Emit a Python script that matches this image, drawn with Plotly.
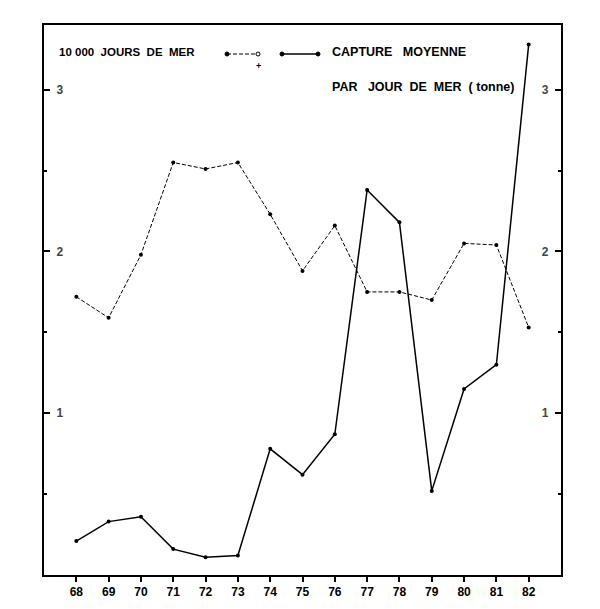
import plotly.graph_objects as go

years = [68, 69, 70, 71, 72, 73, 74, 75, 76, 77, 78, 79, 80, 81, 82]
year_labels = ["68", "69", "70", "71", "72", "73", "74", "75", "76", "77", "78", "79", "80", "81", "82"]
jours_de_mer = [1.72, 1.59, 1.98, 2.55, 2.51, 2.55, 2.23, 1.88, 2.16, 1.75, 1.75, 1.70, 2.05, 2.04, 1.53]
capture_moyenne = [0.21, 0.33, 0.36, 0.16, 0.11, 0.12, 0.78, 0.62, 0.87, 2.38, 2.18, 0.52, 1.15, 1.30, 3.28]
y_ticks = [1, 2, 3]
y_tick_labels = ["1", "2", "3"]

FONT = "Liberation Sans"
fig = go.Figure()

fig.add_trace(go.Scatter(
    x=years, y=jours_de_mer, mode="lines+markers",
    line=dict(color="black", width=1, dash="4px,2px"),
    marker=dict(color="black", size=4),
    yaxis="y", showlegend=False))
fig.add_trace(go.Scatter(
    x=years, y=capture_moyenne, mode="lines+markers",
    line=dict(color="black", width=1.5),
    marker=dict(color="black", size=4),
    yaxis="y2", showlegend=False))

yrange = [0, 3.40]
fig.update_layout(
    width=600, height=609,
    margin=dict(l=36, r=47, t=17, b=42),
    paper_bgcolor="white", plot_bgcolor="white",
    font=dict(family=FONT, color="black", size=12),
    xaxis=dict(range=[67, 83], tickvals=years, ticktext=year_labels,
               ticks="outside", ticklen=5, tickwidth=1.5, tickcolor="black",
               showline=True, linecolor="black", linewidth=2, mirror=True,
               showgrid=False, zeroline=False,
               tickfont=dict(family=FONT, size=12, weight="bold")),
    yaxis=dict(range=yrange, tickvals=y_ticks, ticktext=y_tick_labels,
               ticks="inside", ticklen=6, tickwidth=1.5, tickcolor="black",
               ticklabelposition="inside", ticklabelstandoff=6,
               showline=True, linecolor="black", linewidth=2,
               showgrid=False, zeroline=False,
               minor=dict(tickvals=[0.5, 1.5, 2.5], ticks="inside", ticklen=3, tickcolor="black"),
               tickfont=dict(family=FONT, size=12, weight="bold")),
    yaxis2=dict(range=yrange, tickvals=y_ticks, ticktext=y_tick_labels,
                overlaying="y", side="right",
                ticks="inside", ticklen=6, tickwidth=1.5, tickcolor="black",
                ticklabelposition="inside", ticklabelstandoff=6,
                showline=True, linecolor="black", linewidth=2,
                showgrid=False, zeroline=False,
                minor=dict(tickvals=[0.5, 1.5, 2.5], ticks="inside", ticklen=3, tickcolor="black"),
                tickfont=dict(family=FONT, size=12, weight="bold")),
)

def px2paper_x(px):
    return (px - 44) / (561 - 44)

def px2paper_y(py):
    return (575 - py) / (575 - 25)

tf = dict(family=FONT, size=11.5, color="black", weight="bold")
tf2 = dict(family=FONT, size=12.5, color="black", weight="bold")
fig.add_annotation(x=px2paper_x(57), y=px2paper_y(52), xref="paper", yref="paper",
                   text="10 000  JOURS  DE  MER", showarrow=False, xanchor="left", yanchor="middle", font=tf)
fig.add_annotation(x=px2paper_x(330), y=px2paper_y(52), xref="paper", yref="paper",
                   text="CAPTURE   MOYENNE", showarrow=False, xanchor="left", yanchor="middle", font=tf2)
fig.add_annotation(x=px2paper_x(330), y=px2paper_y(87), xref="paper", yref="paper",
                   text="PAR   JOUR  DE  MER  ( tonne)", showarrow=False, xanchor="left", yanchor="middle", font=tf2)
fig.add_annotation(x=px2paper_x(258), y=px2paper_y(66), xref="paper", yref="paper",
                   text="+", showarrow=False, xanchor="center", yanchor="middle",
                   font=dict(family=FONT, size=9, color="black", weight="bold"))

# legend samples
fig.add_shape(type="line", xref="paper", yref="paper",
              x0=px2paper_x(227), x1=px2paper_x(258), y0=px2paper_y(54), y1=px2paper_y(54),
              line=dict(color="black", width=1, dash="4px,2px"))
fig.add_shape(type="line", xref="paper", yref="paper",
              x0=px2paper_x(282), x1=px2paper_x(318), y0=px2paper_y(54), y1=px2paper_y(54),
              line=dict(color="black", width=1.5))
for cx, filled in [(227, True), (258, False), (282, True), (318, True)]:
    r = 2
    fig.add_shape(type="circle", xref="paper", yref="paper",
                  x0=px2paper_x(cx - r), x1=px2paper_x(cx + r),
                  y0=px2paper_y(54 + r), y1=px2paper_y(54 - r),
                  line=dict(color="black", width=1),
                  fillcolor="black" if filled else "white")

fig.write_html("out.html")
